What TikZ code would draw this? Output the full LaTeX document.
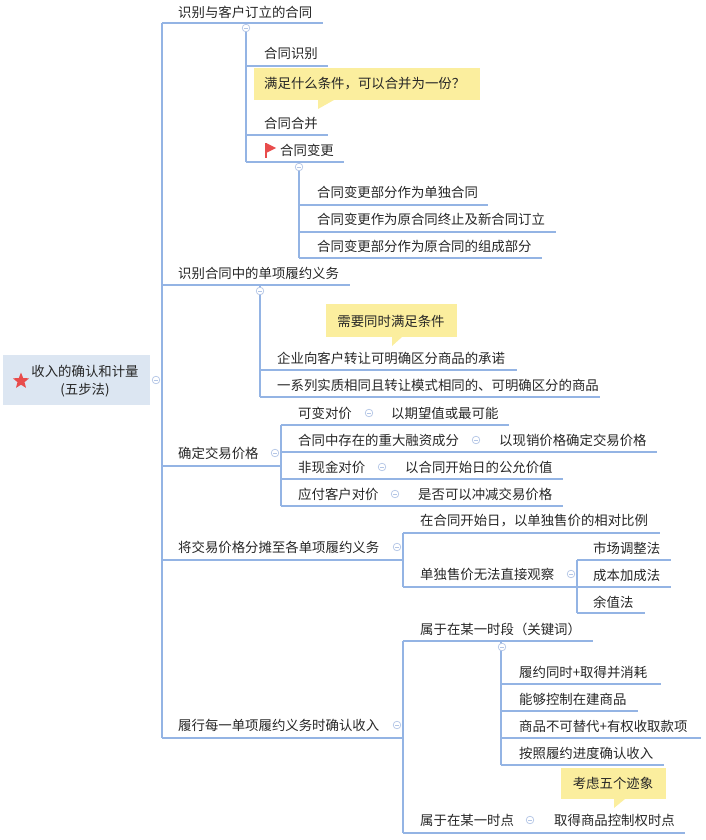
\documentclass[tikz,border=0pt]{standalone}
\usepackage{fontspec}
\setmainfont{Noto Sans CJK SC}
\usetikzlibrary{shapes.geometric}
\definecolor{lnc}{HTML}{94B4E4}
\definecolor{colc}{HTML}{B4C6E6}
\definecolor{rootf}{HTML}{DCE6F2}
\definecolor{callf}{HTML}{FBEE9E}
\definecolor{redc}{HTML}{E84C4C}
\tikzset{
 txt/.style={anchor=west,inner sep=0pt,font=\fontsize{13.4}{15}\selectfont,text=black!85},
 ln/.style={draw=lnc,line width=1.1pt},
}
\newcommand\colbtn[2]{\draw[colc,fill=white,line width=0.7pt] (#1,#2) circle (3.8); \draw[colc,line width=0.7pt] (#1-2,#2) -- (#1+2,#2);}
\begin{document}
\begin{tikzpicture}[x=1pt,y=-1pt]
\useasboundingbox (0,0) rectangle (705,840);
% root
\fill[rootf] (3,355) rectangle (150,405);
\node[star,star points=5,star point ratio=2.3,fill=redc,minimum size=17pt,inner sep=0pt] (star) at (21,381) {};
\node[txt,anchor=center] (root1) at (85,371) {收入的确认和计量};
\node[txt,anchor=center] (root2) at (85,390) {(五步法)};
% main vertical
\draw[ln] (162,23) -- (162,738);
\colbtn{156}{380}
% L1-1
\node[txt] (a) at (178,12) {识别与客户订立的合同};
\draw[ln] (162,23) -- (323,23);
\draw[ln] (246,23) -- (246,162);
\colbtn{246}{28}
\node[txt] (a1) at (264,53) {合同识别};
\draw[ln] (246,66) -- (328,66);
\fill[callf] (254,68) rectangle (480,100);
\fill[callf] (318,100) -- (334,100) -- (318,109) -- cycle;
\node[txt] (c1) at (264,84) {满足什么条件，可以合并为一份？};
\node[txt] (a2) at (264,123) {合同合并};
\draw[ln] (246,135) -- (328,135);
\draw[redc,line width=1.3pt] (266,143) -- (266,158);
\fill[redc] (266,143) -- (276,148) -- (266,153) -- cycle;
\node[txt] (a3) at (280,150) {合同变更};
\draw[ln] (246,162) -- (344,162);
\draw[ln] (299,162) -- (299,258);
\colbtn{299}{167}
\node[txt] (a31) at (317,192) {合同变更部分作为单独合同};
\draw[ln] (299,205) -- (488,205);
\node[txt] (a32) at (317,219) {合同变更作为原合同终止及新合同订立};
\draw[ln] (299,232) -- (556,232);
\node[txt] (a33) at (317,246) {合同变更部分作为原合同的组成部分};
\draw[ln] (299,258) -- (542,258);
% L1-2
\node[txt] (b) at (178,273) {识别合同中的单项履约义务};
\draw[ln] (162,285) -- (350,285);
\draw[ln] (260,285) -- (260,397);
\colbtn{260}{291}
\fill[callf] (326,304) rectangle (457,337);
\fill[callf] (392,337) -- (402,337) -- (392,346) -- cycle;
\node[txt,anchor=center] (c2) at (391,321) {需要同时满足条件};
\node[txt] (b1) at (277,358) {企业向客户转让可明确区分商品的承诺};
\draw[ln] (260,370) -- (517,370);
\node[txt] (b2) at (277,385) {一系列实质相同且转让模式相同的、可明确区分的商品};
\draw[ln] (260,397) -- (600,397);
% L1-3
\node[txt] (d) at (178,453) {确定交易价格};
\draw[ln] (162,466) -- (281,466);
\draw[ln] (281,425) -- (281,506);
\colbtn{275}{453}
\node[txt] (d1) at (298,413) {可变对价};
\colbtn{369}{413}
\node[txt] (d1a) at (391,413) {以期望值或最可能};
\draw[ln] (281,425) -- (509,425);
\node[txt] (d2) at (298,440) {合同中存在的重大融资成分};
\colbtn{476}{440}
\node[txt] (d2a) at (499,440) {以现销价格确定交易价格};
\draw[ln] (281,452) -- (657,452);
\node[txt] (d3) at (298,467) {非现金对价};
\colbtn{382}{467}
\node[txt] (d3a) at (405,467) {以合同开始日的公允价值};
\draw[ln] (281,479) -- (563,479);
\node[txt] (d4) at (298,494) {应付客户对价};
\colbtn{395}{494}
\node[txt] (d4a) at (418,494) {是否可以冲减交易价格};
\draw[ln] (281,506) -- (563,506);
% L1-4
\node[txt] (e) at (178,547) {将交易价格分摊至各单项履约义务};
\draw[ln] (162,560) -- (403,560);
\draw[ln] (403,533) -- (403,587);
\colbtn{397}{547}
\node[txt] (e1) at (420,521) {在合同开始日，以单独售价的相对比例};
\draw[ln] (403,533) -- (660,533);
\node[txt] (e2) at (420,574) {单独售价无法直接观察};
\colbtn{571}{574}
\draw[ln] (403,587) -- (577,587);
\draw[ln] (577,560) -- (577,613);
\node[txt] (e21) at (593,548) {市场调整法};
\draw[ln] (577,560) -- (671,560);
\node[txt] (e22) at (593,575) {成本加成法};
\draw[ln] (577,587) -- (671,587);
\node[txt] (e23) at (593,602) {余值法};
\draw[ln] (577,613) -- (645,613);
% L1-5
\node[txt] (f) at (178,725) {履行每一单项履约义务时确认收入};
\draw[ln] (162,738) -- (403,738);
\draw[ln] (403,641) -- (403,833);
\colbtn{397}{725}
\node[txt] (f1) at (420,629) {属于在某一时段（关键词）};
\draw[ln] (403,641) -- (593,641);
\draw[ln] (501,641) -- (501,765);
\colbtn{502}{647}
\node[txt] (f11) at (519,672) {履约同时+取得并消耗};
\draw[ln] (501,684) -- (661,684);
\node[txt] (f12) at (519,699) {能够控制在建商品};
\draw[ln] (501,711) -- (638,711);
\node[txt] (f13) at (519,726) {商品不可替代+有权收取款项};
\draw[ln] (501,738) -- (701,738);
\node[txt] (f14) at (519,753) {按照履约进度确认收入};
\draw[ln] (501,765) -- (664,765);
\fill[callf] (561,768) rectangle (666,799);
\fill[callf] (614,799) -- (625,799) -- (614,808) -- cycle;
\node[txt,anchor=center] (c3) at (613,783) {考虑五个迹象};
\node[txt] (f2) at (420,820) {属于在某一时点};
\colbtn{530}{820}
\node[txt] (f2a) at (554,820) {取得商品控制权时点};
\draw[ln] (403,833) -- (685,833);
\end{tikzpicture}
\end{document}
